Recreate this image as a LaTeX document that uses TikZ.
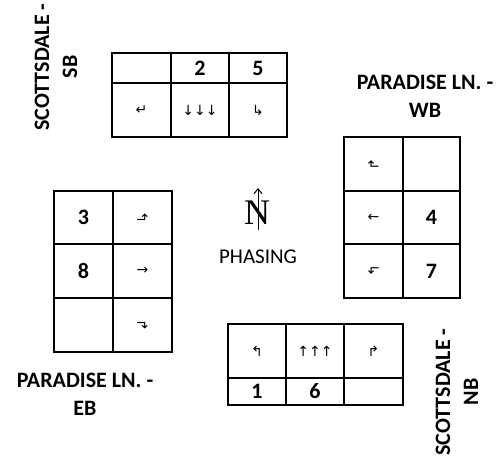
\documentclass[tikz,border=0pt]{standalone}
\usepackage{fontspec}
\usetikzlibrary{arrows.meta}
\setmainfont{Carlito}
\newfontfamily\arrowfont{DejaVu Sans}
\newfontfamily\northfont{Liberation Serif}

\begin{document}
\begin{tikzpicture}[x=1pt, y=-1pt,
    outer/.style={line width=2.8pt},
    inner/.style={line width=1.3pt},
    num/.style={font=\fontsize{22}{26}\selectfont\bfseries},
    arr/.style={font=\arrowfont\fontsize{14}{16}\selectfont},
    street/.style={font=\fontsize{22}{28}\selectfont\bfseries, align=center}]
    \useasboundingbox (0,0) rectangle (499,465);

    % Southbound box (Scottsdale)
    \draw[inner] (171,53) -- (171,137) (229,53) -- (229,137) (112,83) -- (287,83);
    \draw[outer] (112,53) rectangle (287,137);
    \node[num] (sb2) at (200,68) {2};
    \node[num] (sb5) at (258,68) {5};
    \node[arr] (sbright) at (141.5,110) {↵};
    \node[arr] (sbthru) at (200,110) {↓↓↓};
    \node[arr] (sbleft) at (258,110) {↳};
    \node[street, rotate=90] (sblabel) at (56,67) {SCOTTSDALE -\\SB};

    % Westbound box (Paradise Ln.)
    \draw[inner] (403,137) -- (403,298) (344,191) -- (460,191) (344,244) -- (460,244);
    \draw[outer] (344,137) rectangle (460,298);
    \node[arr, rotate=-90] (wbright) at (373.5,164) {↲};
    \node[arr] (wbthru) at (373.5,217.5) {←};
    \node[arr, rotate=90] (wbleft) at (373.5,271) {↰};
    \node[num] (wb4) at (431.5,217.5) {4};
    \node[num] (wb7) at (431.5,271) {7};
    \node[street] (wblabel) at (425,96) {PARADISE LN. -\\WB};

    % Eastbound box (Paradise Ln.)
    \draw[inner] (113,191) -- (113,352) (54,244) -- (172,244) (54,298) -- (172,298);
    \draw[outer] (54,191) rectangle (172,352);
    \node[num] (eb3) at (83.5,217.5) {3};
    \node[num] (eb8) at (83.5,271) {8};
    \node[arr, rotate=90] (ebleft) at (142.5,217.5) {↳};
    \node[arr] (ebthru) at (142.5,271) {→};
    \node[arr, rotate=-90] (ebright) at (142.5,325) {↱};
    \node[street] (eblabel) at (85,394) {PARADISE LN. -\\EB};

    % Northbound box (Scottsdale)
    \draw[inner] (286,324) -- (286,405) (344,324) -- (344,405) (228,378) -- (403,378);
    \draw[outer] (228,324) rectangle (403,405);
    \node[arr] (nbleft) at (257,351) {↰};
    \node[arr] (nbthru) at (315,351) {↑↑↑};
    \node[arr] (nbright) at (373.5,351) {↱};
    \node[num] (nb1) at (257,391.5) {1};
    \node[num] (nb6) at (315,391.5) {6};
    \node[street, rotate=90] (nblabel) at (457,392) {SCOTTSDALE -\\NB};

    % North arrow and title
    \node[font=\northfont\fontsize{36}{36}\selectfont, inner sep=0pt] (north) at (257,213) {N};
    \coordinate (ntail) at ([xshift=1pt, yshift=-5pt]north.south);
    \coordinate (ntip) at ([xshift=1pt, yshift=25pt]north.center);
    \draw[-{Straight Barb[length=5pt, width=8pt]}, line width=1pt] (ntail) -- (ntip);
    \node[font=\fontsize{21}{24}\selectfont] (phasing) at (258,257) {PHASING};
\end{tikzpicture}
\end{document}
